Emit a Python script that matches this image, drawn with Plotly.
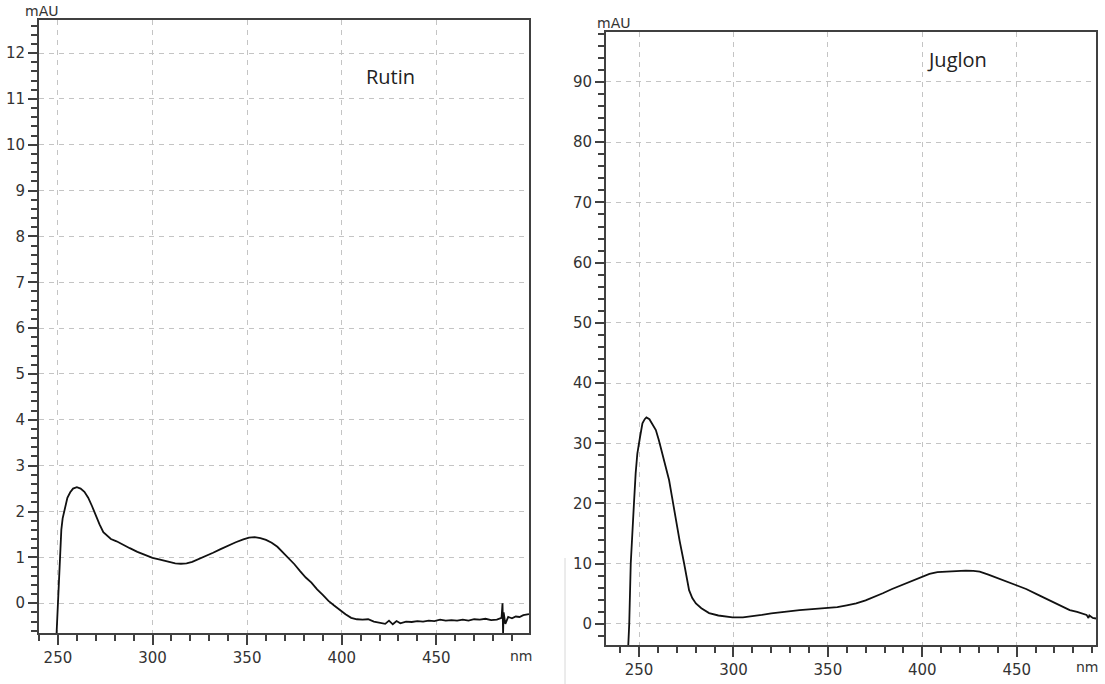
import plotly.graph_objects as go

# Rutin UV spectrum (wavelength in nm, absorbance in mAU)
rutin_nm = [249.3, 249.8, 250.2, 250.7, 251.2, 251.8, 252.5, 253.5, 255.0, 256.5,
            258.0, 260.0, 262.0, 264.0, 266.0, 268.0, 270.0, 272.0, 274.0, 276.0,
            278.0, 281.0, 284.0, 288.0, 292.0, 296.0, 300.0, 304.0, 308.0, 312.0,
            315.0, 318.0, 321.0, 324.0, 328.0, 332.0, 336.0, 340.0, 344.0, 348.0,
            351.0, 354.0, 357.0, 360.0, 363.0, 366.0, 369.0, 372.0, 375.0, 378.0,
            381.0, 384.0, 387.0, 390.0, 393.0, 396.0, 399.0, 402.0, 405.0, 408.0,
            411.0, 414.0, 417.0, 420.0, 423.0, 425.0, 427.0, 429.0, 431.0, 434.0,
            437.0, 440.0, 443.0, 446.0, 449.0, 452.0, 455.0, 458.0, 461.0, 464.0,
            467.0, 470.0, 473.0, 476.0, 479.0, 482.0, 484.5, 485.0, 485.3, 485.6,
            486.5, 488.0, 490.0, 492.0, 494.0, 496.0, 499.0]
rutin_mau = [-0.65, -0.2, 0.3, 0.9, 1.4, 1.6, 1.85, 2.05, 2.3, 2.42,
             2.5, 2.53, 2.5, 2.43, 2.3, 2.12, 1.9, 1.72, 1.55, 1.47,
             1.4, 1.35, 1.28, 1.2, 1.12, 1.05, 0.99, 0.95, 0.91, 0.87,
             0.86, 0.87, 0.9, 0.95, 1.02, 1.1, 1.18, 1.26, 1.33, 1.39,
             1.43, 1.44, 1.42, 1.38, 1.32, 1.23, 1.11, 0.98, 0.85, 0.7,
             0.56, 0.45, 0.3, 0.18, 0.05, -0.05, -0.15, -0.24, -0.32, -0.35,
             -0.36, -0.35, -0.4, -0.42, -0.45, -0.38, -0.46, -0.39, -0.44, -0.4,
             -0.41, -0.39, -0.4, -0.38, -0.39, -0.36, -0.38, -0.37, -0.38, -0.36,
             -0.38, -0.35, -0.36, -0.34, -0.37, -0.36, -0.32, 0.0, -0.65, -0.2,
             -0.45, -0.3, -0.33, -0.29, -0.3, -0.26, -0.24]

# Juglon UV spectrum
juglon_nm = [244.3, 244.8, 245.6, 246.3, 247.3, 248.2, 249.1, 250.5, 251.8, 253.0,
             253.9, 255.5, 257.0, 258.9, 260.5, 262.4, 264.0, 265.9, 267.5, 269.5,
             271.5, 273.9, 275.2, 276.5, 278.2, 280.1, 283.0, 287.1, 292.0, 296.0,
             299.5, 305.0, 310.1, 315.0, 320.0, 325.0, 329.6, 335.0, 340.0, 345.0,
             350.8, 355.0, 360.0, 365.0, 370.0, 375.0, 379.1, 384.0, 388.0, 393.2,
             398.0, 403.8, 408.0, 413.0, 418.0, 423.0, 427.0, 430.4, 435.0, 440.0,
             444.5, 450.0, 455.0, 462.2, 468.0, 473.0, 478.1, 482.0, 485.0, 487.0,
             488.0, 488.5, 490.3, 492.0]
juglon_mau = [-3.5, 0.0, 10.0, 15.0, 20.0, 25.0, 28.3, 31.0, 33.3, 34.0,
              34.3, 34.0, 33.3, 32.2, 30.5, 28.3, 26.3, 23.9, 21.0, 17.2,
              13.8, 10.0, 7.5, 5.6, 4.3, 3.4, 2.6, 1.8, 1.4, 1.2,
              1.1, 1.1, 1.25, 1.5, 1.75, 1.95, 2.15, 2.3, 2.4, 2.5,
              2.6, 2.8, 3.1, 3.4, 3.9, 4.5, 5.1, 5.8, 6.3, 7.0,
              7.6, 8.3, 8.6, 8.7, 8.8, 8.85, 8.8, 8.7, 8.2, 7.6,
              7.0, 6.4, 5.8, 4.7, 3.8, 3.0, 2.3, 2.0, 1.7, 1.5,
              1.0, 1.4, 1.0, 0.9]

W, H = 1105, 684
TICK_FONT = dict(family="DejaVu Sans", size=15, color="#333333")
GRID = "#c4c4c4"
FRAME = "#404040"
DASH = "5px,5px"


def px_x(v):
    return v / W


def px_y(v):
    return 1 - v / H


fig = go.Figure()
fig.add_trace(go.Scatter(x=rutin_nm, y=rutin_mau, mode="lines",
                         line=dict(color="#111111", width=1.8),
                         xaxis="x", yaxis="y", showlegend=False))
fig.add_trace(go.Scatter(x=juglon_nm, y=juglon_mau, mode="lines",
                         line=dict(color="#111111", width=1.8),
                         xaxis="x2", yaxis="y2", showlegend=False))


def xaxis(domain, rng, anchor):
    return dict(domain=domain, range=rng, anchor=anchor,
                tick0=250, dtick=50, ticks="outside", ticklen=10, tickwidth=1.5,
                tickcolor=FRAME, tickfont=TICK_FONT,
                minor=dict(dtick=10, ticks="outside", ticklen=6, tickwidth=1.5,
                           tickcolor=FRAME, showgrid=False),
                showgrid=True, gridcolor=GRID, griddash=DASH, gridwidth=1,
                showline=True, linecolor=FRAME, linewidth=2, mirror=True,
                zeroline=False, fixedrange=True)


def yaxis(domain, rng, anchor, major, minor):
    return dict(domain=domain, range=rng, anchor=anchor,
                tick0=0, dtick=major, ticks="outside", ticklen=9, tickwidth=1.5,
                tickcolor=FRAME, tickfont=TICK_FONT,
                minor=dict(dtick=minor, ticks="outside", ticklen=6, tickwidth=1.5,
                           tickcolor=FRAME, showgrid=False),
                showgrid=True, gridcolor=GRID, griddash=DASH, gridwidth=1,
                showline=True, linecolor=FRAME, linewidth=2, mirror=True,
                zeroline=False, fixedrange=True)


fig.update_layout(
    width=W, height=H,
    margin=dict(l=0, r=0, t=0, b=0),
    paper_bgcolor="white", plot_bgcolor="white",
    xaxis=xaxis([px_x(39), px_x(529)], [240, 499], "y"),
    yaxis=yaxis([px_y(633), px_y(20)], [-0.65, 12.72], "x", 1, 0.2),
    xaxis2=xaxis([px_x(606), px_x(1096)], [232.5, 492], "y2"),
    yaxis2=yaxis([px_y(645), px_y(32)], [-3.5, 98.3], "x2", 10, 2),
)

annotations = [
    dict(text="mAU", x=px_x(41), y=px_y(11)),
    dict(text="mAU", x=px_x(613), y=px_y(23)),
    dict(text="nm", x=px_x(521), y=px_y(656)),
    dict(text="nm", x=px_x(1087), y=px_y(667)),
]
for a in annotations:
    fig.add_annotation(xref="paper", yref="paper", showarrow=False,
                       xanchor="center", yanchor="middle",
                       font=dict(family="DejaVu Sans", size=14, color="#333333"), **a)

fig.add_annotation(xref="paper", yref="paper", x=px_x(390), y=px_y(76),
                   text="Rutin", showarrow=False, xanchor="center", yanchor="middle",
                   font=dict(family="Open Sans", size=20, color="#222222"))
fig.add_annotation(xref="paper", yref="paper", x=px_x(957), y=px_y(59),
                   text="Juglon", showarrow=False, xanchor="center", yanchor="middle",
                   font=dict(family="Open Sans", size=20, color="#222222"))

# faint edge line between the two panels
fig.add_shape(type="line", xref="paper", yref="paper",
              x0=px_x(565), x1=px_x(565), y0=px_y(558), y1=px_y(684),
              line=dict(color="#d8d8d8", width=1))

fig.write_html("out.html")
